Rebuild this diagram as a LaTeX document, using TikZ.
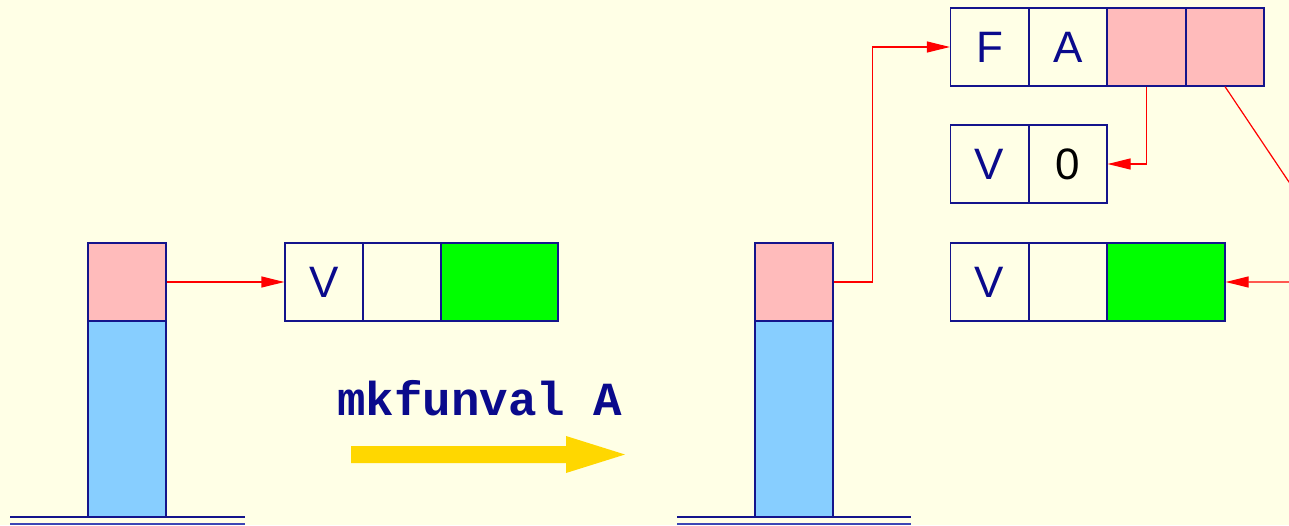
\documentclass[tikz,border=0pt]{standalone}
\usepackage{fontspec}
\setmainfont{Liberation Sans}
\setmonofont{Liberation Mono}
\usetikzlibrary{arrows.meta}
\definecolor{bg}{RGB}{255,255,230}
\definecolor{navy}{RGB}{20,20,140}
\definecolor{txt}{RGB}{10,10,140}
\definecolor{pinkc}{RGB}{255,187,187}
\definecolor{bluec}{RGB}{135,206,255}
\definecolor{greenc}{RGB}{0,255,0}
\definecolor{goldc}{RGB}{255,215,0}
\definecolor{basec}{RGB}{60,70,180}
\tikzset{
  cell/.style={draw=navy, line width=1.2pt, minimum width=78pt, minimum height=78pt,
    inner sep=0pt, font=\fontsize{44}{44}\selectfont, text=txt},
  ptr/.style={draw=red, line width=1.2pt, -{Triangle[length=23pt,width=11pt]}},
  baseln/.style={draw=navy, line width=2pt},
  baseln2/.style={draw=basec, line width=2pt}
}
\begin{document}
\begin{tikzpicture}[x=1pt,y=-1pt]
\fill[bg] (0,0) rectangle (1289,525);
\useasboundingbox (0,0) rectangle (1289,525);
\clip (0,0) rectangle (1289,525);
% left stack
\node[cell, fill=pinkc] (lpink) at (127,282) {};
\node[cell, fill=bluec, minimum height=196pt] (lblue) at (127,419) {};
\draw[baseln] (10,517) -- (245,517);
\draw[baseln2] (10,524) -- (245,524);
% left record
\node[cell] (lv1) at (324,282) {V};
\node[cell] (lv2) at (402,282) {};
\node[cell, fill=greenc, minimum width=117pt] (lv3) at (499.5,282) {};
\draw[ptr] (lpink.east) -- (lv1.west);
% instruction
\node[inner sep=0pt, anchor=base, text=txt, font=\fontsize{47.5}{47.5}\selectfont\ttfamily\bfseries] (instr) at (480,415) {mkfunval A};
\fill[goldc] (351,446) -- (566,446) -- (566,436) -- (625,454.5) -- (566,473) -- (566,463) -- (351,463) -- cycle;
% right stack
\node[cell, fill=pinkc] (rpink) at (794,282) {};
\node[cell, fill=bluec, minimum height=196pt] (rblue) at (794,419) {};
\draw[baseln] (677,517) -- (911,517);
\draw[baseln2] (677,524) -- (911,524);
% closure record
\node[cell] (f1) at (989.5,47) {F};
\node[cell] (f2) at (1068,47) {A};
\node[cell, fill=pinkc] (f3) at (1146.5,47) {};
\node[cell, fill=pinkc] (f4) at (1225,47) {};
% V 0
\node[cell] (z1) at (989.5,164) {V};
\node[cell, text=black] (z2) at (1068,164) {0};
% lower V record
\node[cell] (g1) at (989.5,282) {V};
\node[cell] (g2) at (1068,282) {};
\node[cell, fill=greenc, minimum width=118pt] (g3) at (1166,282) {};
\coordinate (offr) at (1356,282);
% pointers
\draw[ptr] (rpink.east) -- ++(39,0) |- (f1.west);
\draw[ptr] (f3.south) |- (z2.east);
\draw[ptr] (f4.south) -- (offr) -- (g3.east);
\end{tikzpicture}
\end{document}
